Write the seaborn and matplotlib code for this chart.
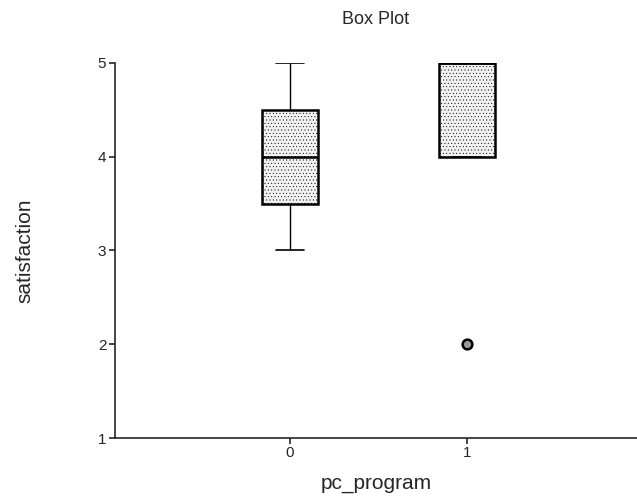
import matplotlib
matplotlib.use("Agg")
import matplotlib.pyplot as plt
import seaborn as sns
import pandas as pd

# raw scores per group
group_0 = [3, 3, 4, 4, 4, 5, 5]
group_1 = [2, 4, 5, 5, 5]
groups = ["0", "1"]

df = pd.DataFrame({
    "pc_program": [groups[0]] * len(group_0) + [groups[1]] * len(group_1),
    "satisfaction": group_0 + group_1,
})

sns.set_style("white")
plt.rcParams["font.family"] = ["Liberation Sans", "DejaVu Sans"]
plt.rcParams["hatch.linewidth"] = 0.3

fig = plt.figure(figsize=(6.37, 5.03), dpi=100)
ax = fig.add_axes([0.18, 0.129, 0.82, 0.746])

sns.boxplot(data=df, x="pc_program", y="satisfaction", order=groups,
            width=0.32, color="#f2f2f2", linecolor="black", linewidth=1.8,
            whis=1.5, ax=ax,
            flierprops=dict(marker="o", markersize=7, markerfacecolor="#999999",
                            markeredgecolor="black", markeredgewidth=1.8),
            whiskerprops=dict(linewidth=1.0), capprops=dict(linewidth=1.2))

for p in ax.patches:
    p.set_hatch(".....")

ax.set_xlim(-0.99, 1.96)
ax.set_ylim(1, 5)
ax.set_yticks([1, 2, 3, 4, 5])
sns.despine(ax=ax)
ax.spines["left"].set_linewidth(1.2)
ax.spines["bottom"].set_linewidth(1.2)
ax.tick_params(axis="both", direction="out", length=4, width=1.2, labelsize=11,
               left=True, bottom=True, pad=2)
ax.set_title("Box Plot", fontsize=13, pad=28)
ax.set_xlabel("pc_program", fontsize=15, labelpad=10)
ax.set_ylabel("satisfaction", fontsize=15, labelpad=46)

fig.savefig("out.png", dpi=100)
